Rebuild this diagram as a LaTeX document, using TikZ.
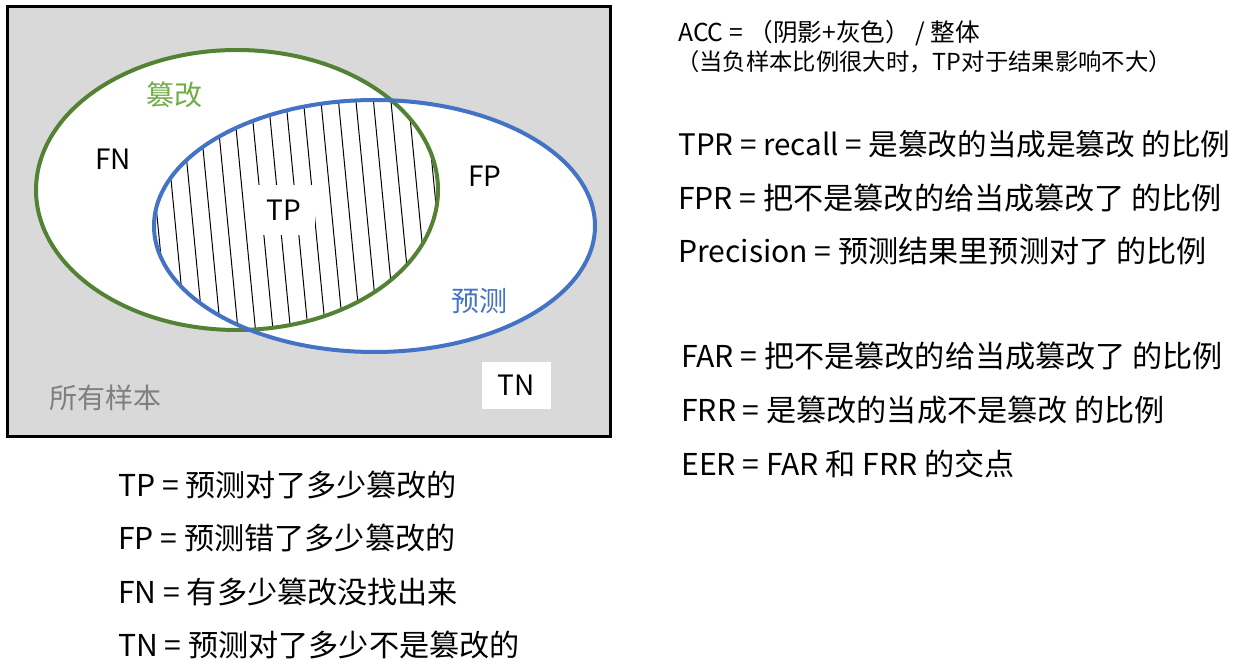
\documentclass[tikz,border=0pt]{standalone}
\usepackage{fontspec}
\setmainfont{Noto Sans CJK SC}
\definecolor{graybg}{HTML}{D9D9D9}
\definecolor{greenline}{HTML}{548235}
\definecolor{greenlabel}{HTML}{70AD47}
\definecolor{blueline}{HTML}{4472C4}
\definecolor{graytext}{HTML}{7F7F7F}
\begin{document}
\begin{tikzpicture}[x=0.75pt,y=-0.75pt,
  txt/.style={inner sep=0pt, anchor=west, font=\fontsize{22.6pt}{26pt}\selectfont},
  lbl/.style={inner sep=0pt, font=\fontsize{21pt}{25pt}\selectfont},
  hatch/.style={line width=0.75pt, black},
  ell/.style={line width=3pt}]
\useasboundingbox (0,0) rectangle (1235,666);
\fill[white] (0,0) rectangle (1235,666);
% frame
\draw[line width=2.25pt, fill=graybg] (7,7) rectangle (610,436);
% white fills
\fill[white] (237,190) ellipse [x radius=201, y radius=140];
\fill[white] (374.5,226) ellipse [x radius=220.5, y radius=126];
% hatching in intersection
\begin{scope}
\clip (237,190) ellipse [x radius=201, y radius=140];
\clip (374.5,226) ellipse [x radius=220.5, y radius=126];
\foreach \i in {-2,...,20} \draw[hatch] (144.9+\i*17.5,90) -- ++(26,270);
\end{scope}
% outlines
\draw[ell, greenline] (237,190) ellipse [x radius=201, y radius=140];
\draw[ell, blueline] (374.5,226) ellipse [x radius=220.5, y radius=126];
% labels
\node[lbl, fill=white, minimum width=47pt, minimum height=37.5pt] (tp) at (284,210) {TP};
\node[lbl, text=greenlabel] (cg) at (174,95) {篡改};
\node[lbl] (fn) at (113,159) {FN};
\node[lbl] (fp) at (485,176) {FP};
\node[lbl, text=blueline] (yc) at (479,301) {预测};
\node[lbl, fill=white, minimum width=51.75pt, minimum height=35.25pt] (tn) at (516.5,385.5) {TN};
\node[lbl, text=graytext] (all) at (105,398) {所有样本};
% right column
\node[txt, font=\fontsize{18.5pt}{22pt}\selectfont] (acc) at (678,33) {ACC = （阴影+灰色） / 整体};
\node[txt, font=\fontsize{17.5pt}{20pt}\selectfont] (accn) at (676,62) {（当负样本比例很大时，TP对于结果影响不大）};
\node[txt, font=\fontsize{22.2pt}{26pt}\selectfont] (tpr) at (678,144) {TPR = recall = 是篡改的当成是篡改 的比例};
\node[txt] (fpr) at (678,198) {FPR = 把不是篡改的给当成篡改了 的比例};
\node[txt] (prec) at (678,251) {Precision = 预测结果里预测对了 的比例};
\node[txt] (far) at (681,356) {FAR = 把不是篡改的给当成篡改了 的比例};
\node[txt] (frr) at (681,410) {FRR = 是篡改的当成不是篡改 的比例};
\node[txt] (eer) at (681,464) {EER = FAR 和 FRR 的交点};
% bottom left
\node[txt] (dtp) at (118,485) {TP = 预测对了多少篡改的};
\node[txt] (dfp) at (118,538) {FP = 预测错了多少篡改的};
\node[txt] (dfn) at (118,592) {FN = 有多少篡改没找出来};
\node[txt] (dtn) at (118,645) {TN = 预测对了多少不是篡改的};
\end{tikzpicture}
\end{document}
